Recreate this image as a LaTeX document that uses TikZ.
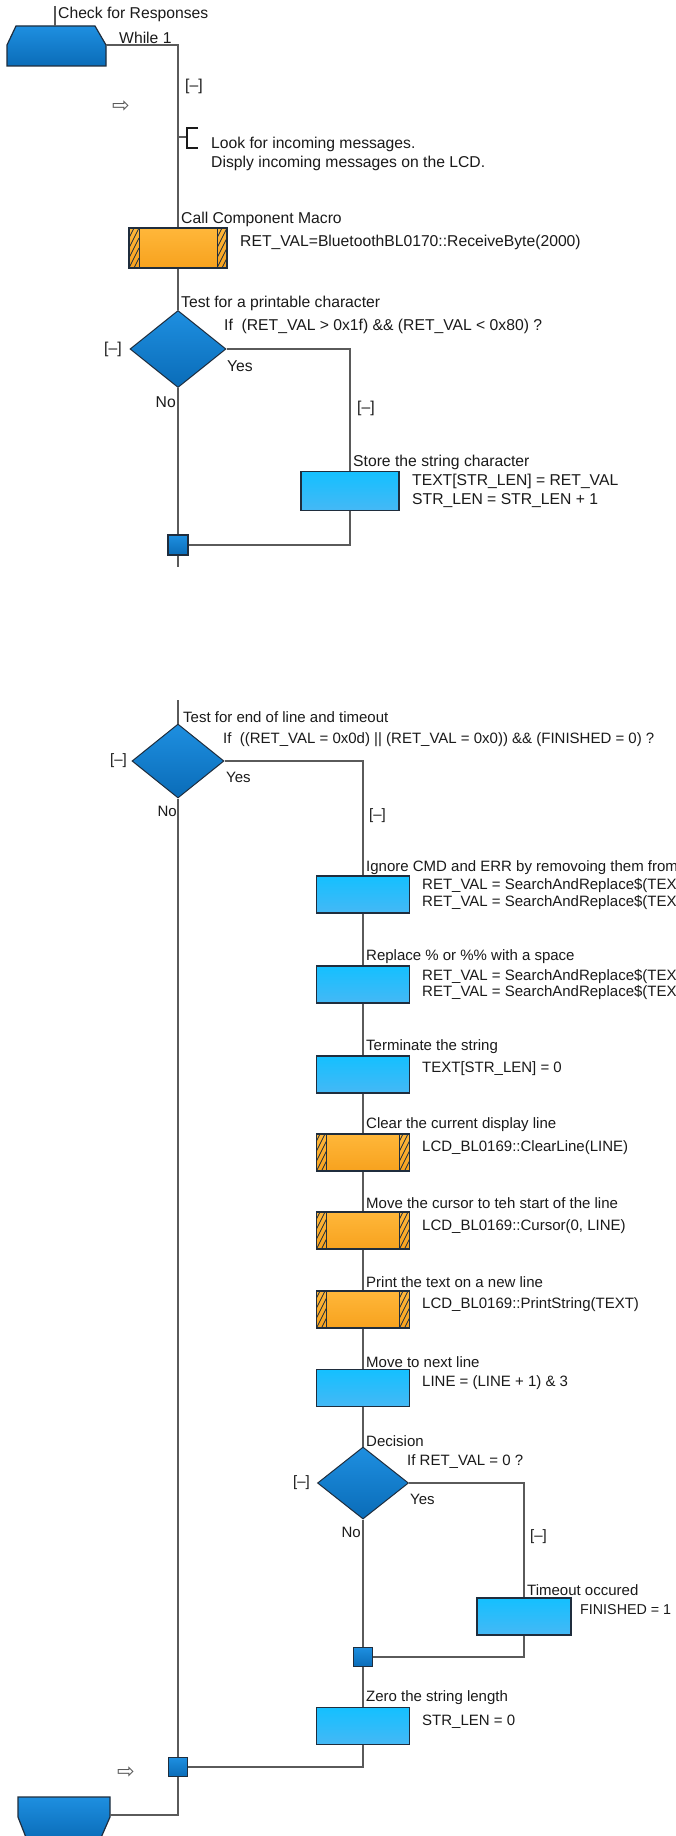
\documentclass[tikz,border=0pt]{standalone}
\usepackage{fontspec}
\setmainfont{Liberation Sans}
\newfontfamily\symfont{DejaVu Sans}
\usetikzlibrary{shapes.geometric,calc}
\definecolor{dblueA}{HTML}{1E8FE0}
\definecolor{dblueB}{HTML}{0A6CB8}
\definecolor{lblueA}{HTML}{14C0FF}
\definecolor{lblueB}{HTML}{45B8F5}
\definecolor{orngA}{HTML}{FFB73A}
\definecolor{orngB}{HTML}{F7A21E}
\definecolor{edgec}{HTML}{1F2D3D}
\definecolor{wirec}{HTML}{5A5A5A}
\definecolor{txtc}{HTML}{1A1A1A}
\tikzset{
  wire/.style={draw=wirec, line width=1.4pt},
  procbox/.style={rectangle, draw=edgec, line width=1.2pt, top color=lblueA, bottom color=lblueB, inner sep=0pt},
  hatchbars/.style={path picture={
      \draw[edgec, line width=1pt] ([xshift=10pt]path picture bounding box.north west) -- ([xshift=10pt]path picture bounding box.south west);
      \draw[edgec, line width=1pt] ([xshift=-10pt]path picture bounding box.north east) -- ([xshift=-10pt]path picture bounding box.south east);
      \begin{scope}
        \clip (path picture bounding box.south west) rectangle ([xshift=10pt]path picture bounding box.north west);
        \foreach \k in {-20,-10,...,40}
          \draw[edgec, line width=0.8pt] ([yshift=\k pt]path picture bounding box.south west) -- ([xshift=10pt,yshift=\k pt+20pt]path picture bounding box.south west);
      \end{scope}
      \begin{scope}
        \clip ([xshift=-10pt]path picture bounding box.south east) rectangle (path picture bounding box.north east);
        \foreach \k in {-20,-10,...,40}
          \draw[edgec, line width=0.8pt] ([xshift=-10pt,yshift=\k pt]path picture bounding box.south east) -- ([yshift=\k pt+20pt]path picture bounding box.south east);
      \end{scope}
  }},
  callbox/.style={rectangle, draw=edgec, line width=1.2pt, top color=orngA, bottom color=orngB, inner sep=0pt, hatchbars},
  decision/.style={diamond, draw=edgec, line width=1pt, top color=dblueA, bottom color=dblueB, inner sep=0pt},
  junction/.style={rectangle, draw=edgec, line width=1.2pt, top color=dblueA, bottom color=dblueB, minimum size=20pt, inner sep=0pt},
  termshape/.style={draw=edgec, line width=1.2pt, top color=dblueA, bottom color=dblueB},
  lbl/.style={anchor=west, inner sep=0pt, text=txtc, font=\fontsize{15.7}{18.5}\selectfont, align=left},
  lblb/.style={anchor=west, inner sep=0pt, text=txtc, font=\fontsize{15}{16.5}\selectfont, align=left},
  lble/.style={lbl, anchor=east},
  lblbe/.style={lblb, anchor=east},
  arrowsym/.style={inner sep=0pt, text=wirec, font=\symfont\fontsize{21}{21}\selectfont},
}
\begin{document}
\begin{tikzpicture}[x=1pt,y=-1pt]
\useasboundingbox (0,0) rectangle (675,1836);
\clip (0,0) rectangle (675,1836);
\fill[white] (0,0) rectangle (675,1836);

% ---------- top section ----------
\path[termshape] (16,26) -- (95,26) -- (106,45) -- (106,66) -- (7,66) -- (7,45) -- cycle;
\coordinate (startR) at (106,45);
\coordinate (tickTop) at (55,6);
\coordinate (tickBot) at (55,26);
\draw[wire] (tickTop) -- (tickBot);
\node[lbl] (tStart) at (58,14) {Check for Responses};
\node[lbl] (tWhile) at (119,38) {While 1};
\node[lbl] (m1) at (185,86) {[–]};
\node[arrowsym] (arr1) at (121,107) {⇨};

\node[callbox, minimum width=98pt, minimum height=40pt] (call) at (178,248) {};
\node[lbl] (tCall) at (181,219) {Call Component Macro};
\node[lbl] (tCallTxt) at (240,242) {RET\_VAL=BluetoothBL0170::ReceiveByte(2000)};

% comment
\coordinate (cmA) at (178,137);
\coordinate (cmB) at (187,137);
\draw[wire] (cmA) -- (cmB);
\coordinate (brT) at (198,128);
\coordinate (brB) at (198,148);
\draw[draw=txtc, line width=1.2pt] (brT) -- (187,128) -- (187,148) -- (brB);
\node[lbl] (tComment) at (211,154) {Look for incoming messages.\\Disply incoming messages on the LCD.};

\draw[wire] (startR) -| (call.north);

\node[decision, minimum width=96pt, minimum height=77pt] (d1) at (178,349) {};
\node[lbl] (tD1) at (181,303) {Test for a printable character};
\node[lbl] (tD1c) at (224,326) {If\ \ (RET\_VAL > 0x1f) \&\& (RET\_VAL < 0x80) ?};
\node[lbl] (m2) at (104,349) {[–]};
\node[lbl] (yes1) at (227,366) {Yes};
\node[lble] (no1) at (176,402) {No};
\draw[wire] (call.south) -- (d1.north);

\node[procbox, minimum width=98pt, minimum height=39pt] (store) at (350,491) {};
\node[lbl] (tStore) at (353,462) {Store the string character};
\node[lbl] (tStoreTxt) at (412,491) {TEXT[STR\_LEN] = RET\_VAL\\STR\_LEN = STR\_LEN + 1};
\node[lbl] (m3) at (357,408) {[–]};
\draw[wire] (d1.east) -| (store.north);

\node[junction] (j1) at (178,545) {};
\draw[wire] (store.south) |- (j1.east);
\draw[wire] (d1.south) -- (j1.north);
\coordinate (cut1) at (178,567);
\draw[wire] (j1.south) -- (cut1);

% ---------- lower section ----------
\coordinate (cut2) at (178,700);
\node[decision, minimum width=92pt, minimum height=74pt] (d2) at (178,761) {};
\draw[wire] (cut2) -- (d2.north);
\node[lblb] (tD2) at (183,717) {Test for end of line and timeout};
\node[lblb] (tD2c) at (223,740) {If\ \ ((RET\_VAL = 0x0d) || (RET\_VAL = 0x0)) \&\& (FINISHED = 0) ?};
\node[lblb] (m4) at (110,761) {[–]};
\node[lblb] (yes2) at (226,777) {Yes};
\node[lblbe] (no2) at (177,811) {No};
\node[lblb] (m5) at (369,816) {[–]};

\tikzset{pb/.style={procbox, minimum width=93pt, minimum height=37pt},
         cb/.style={callbox, minimum width=93pt, minimum height=37pt}}

\node[pb] (b1) at (363,894.5) {};
\node[lblb] (tB1) at (366,868) {Ignore CMD and ERR by removoing them from};
\node[lblb] (tB1t) at (422,894) {RET\_VAL = SearchAndReplace\$(TEX\\RET\_VAL = SearchAndReplace\$(TEX};

\node[pb] (b2) at (363,984.5) {};
\node[lblb] (tB2) at (366,957) {Replace \% or \%\% with a space};
\node[lblb] (tB2t) at (422,984.5) {RET\_VAL = SearchAndReplace\$(TEX\\RET\_VAL = SearchAndReplace\$(TEX};

\node[pb] (b3) at (363,1074.5) {};
\node[lblb] (tB3) at (366,1047) {Terminate the string};
\node[lblb] (tB3t) at (422,1069) {TEXT[STR\_LEN] = 0};

\node[cb] (b4) at (363,1152.5) {};
\node[lblb] (tB4) at (366,1125) {Clear the current display line};
\node[lblb] (tB4t) at (422,1148) {LCD\_BL0169::ClearLine(LINE)};

\node[cb] (b5) at (363,1230.5) {};
\node[lblb] (tB5) at (366,1203) {Move the cursor to teh start of the line};
\node[lblb] (tB5t) at (422,1227) {LCD\_BL0169::Cursor(0, LINE)};

\node[cb] (b6) at (363,1309.5) {};
\node[lblb] (tB6) at (366,1282) {Print the text on a new line};
\node[lblb] (tB6t) at (422,1305) {LCD\_BL0169::PrintString(TEXT)};

\node[pb] (b7) at (363,1388) {};
\node[lblb] (tB7) at (366,1362) {Move to next line};
\node[lblb] (tB7t) at (422,1383) {LINE = (LINE + 1) \& 3};

\node[decision, minimum width=91pt, minimum height=72pt] (d3) at (363,1483) {};
\node[lblb] (tD3) at (366,1441) {Decision};
\node[lblb] (tD3c) at (407,1462) {If RET\_VAL = 0 ?};
\node[lblb] (m6) at (293,1483) {[–]};
\node[lblb] (yes3) at (410,1499) {Yes};
\node[lblbe] (no3) at (361,1532) {No};
\node[lblb] (m7) at (530,1537) {[–]};

\node[pb, minimum width=94pt] (b8) at (524,1616.5) {};
\node[lblb] (tB8) at (527,1590) {Timeout occured};
\node[lblb, font=\fontsize{14.3}{16}\selectfont] (tB8t) at (580,1610) {FINISHED = 1};

\node[junction, minimum size=19pt] (j2) at (363,1657) {};

\node[pb] (b9) at (363,1726) {};
\node[lblb] (tB9) at (366,1698) {Zero the string length};
\node[lblb] (tB9t) at (422,1722) {STR\_LEN = 0};

\node[junction, minimum size=19pt] (j3) at (178,1767) {};
\node[arrowsym] (arr2) at (126,1773) {⇨};

\path[termshape] (18,1797) -- (110,1797) -- (110,1817) -- (100,1840) -- (27,1840) -- (18,1817) -- cycle;
\coordinate (endR) at (110,1815);

\draw[wire] (d2.east) -| (b1.north);
\draw[wire] (b1.south) -- (b2.north);
\draw[wire] (b2.south) -- (b3.north);
\draw[wire] (b3.south) -- (b4.north);
\draw[wire] (b4.south) -- (b5.north);
\draw[wire] (b5.south) -- (b6.north);
\draw[wire] (b6.south) -- (b7.north);
\draw[wire] (b7.south) -- (d3.north);
\draw[wire] (d3.east) -| (b8.north);
\draw[wire] (b8.south) |- (j2.east);
\draw[wire] (d3.south) -- (j2.north);
\draw[wire] (j2.south) -- (b9.north);
\draw[wire] (b9.south) |- (j3.east);
\draw[wire] (d2.south) -- (j3.north);
\draw[wire] (j3.south) |- (endR);
\end{tikzpicture}
\end{document}
